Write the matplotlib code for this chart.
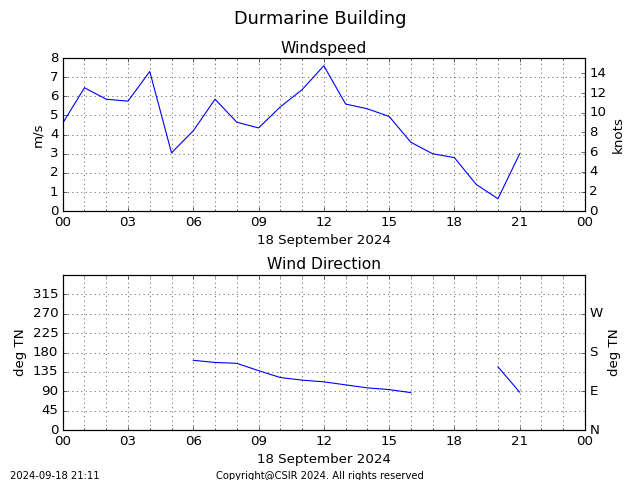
import numpy as np
import matplotlib
matplotlib.use('Agg')
import matplotlib.pyplot as plt
import matplotlib.dates as mdates
from datetime import datetime, timedelta

plt.style.use('classic')

day = datetime(2024, 9, 18)
hours = list(range(22))
times = [day + timedelta(hours=h) for h in hours]

# wind speed, m/s (hourly)
speed = [4.6, 6.45, 5.85, 5.75, 7.3, 3.05, 4.2, 5.85, 4.65, 4.35, 5.45,
         6.35, 7.6, 5.6, 5.35, 4.95, 3.6, 3.0, 2.8, 1.4, 0.65, 3.0]

# wind direction, deg TN (nan = missing)
direction = [np.nan, np.nan, np.nan, np.nan, np.nan, np.nan, 162, 157, 155,
             138, 122, 116, 112, 105, 98, 94, 87, np.nan, np.nan, np.nan,
             147, 88]

dir_ticks = [0, 45, 90, 135, 180, 225, 270, 315]
compass_ticks = [0, 90, 180, 270]
compass_labels = ['N', 'E', 'S', 'W']

fig = plt.figure(figsize=(8, 6), dpi=80)
fig.suptitle('Durmarine Building', fontsize=16)

xfmt = mdates.DateFormatter('%H')
xmin, xmax = day, day + timedelta(days=1)
fs = 12

# windspeed
ax1 = fig.add_axes([0.098, 0.560, 0.816, 0.319])
ax1.plot(times, speed, 'b-')
ax1.set_xlim(xmin, xmax)
ax1.set_ylim(0, 8)
ax1.set_ylabel('m/s', fontsize=fs)
ax1.set_title('Windspeed', fontsize=14)
ax1.set_xlabel('18 September 2024', fontsize=fs)
ax1.xaxis.set_major_locator(mdates.HourLocator(byhour=range(0, 24, 3)))
ax1.xaxis.set_minor_locator(mdates.HourLocator())
ax1.xaxis.set_major_formatter(xfmt)
ax1.grid(True, which='both', axis='x')
ax1.grid(True, which='major', axis='y')
ax1.tick_params(labelsize=fs)
ax1b = ax1.twinx()
ax1b.set_ylim(0, 8 * 1.94384)
ax1b.set_yticks(range(0, 16, 2))
ax1b.set_ylabel('knots', fontsize=fs)
ax1b.tick_params(labelsize=fs)

# wind direction
ax2 = fig.add_axes([0.098, 0.104, 0.816, 0.323])
ax2.plot(times, direction, 'b-')
ax2.set_xlim(xmin, xmax)
ax2.set_ylim(0, 360)
ax2.set_yticks(dir_ticks)
ax2.set_ylabel('deg TN', fontsize=fs)
ax2.set_title('Wind Direction', fontsize=14)
ax2.set_xlabel('18 September 2024', fontsize=fs)
ax2.xaxis.set_major_locator(mdates.HourLocator(byhour=range(0, 24, 3)))
ax2.xaxis.set_minor_locator(mdates.HourLocator())
ax2.xaxis.set_major_formatter(xfmt)
ax2.grid(True, which='both', axis='x')
ax2.grid(True, which='major', axis='y')
ax2.tick_params(labelsize=fs)
ax2b = ax2.twinx()
ax2b.set_ylim(0, 360)
ax2b.set_yticks(compass_ticks)
ax2b.set_yticklabels(compass_labels)
ax2b.set_ylabel('deg TN', fontsize=fs)
ax2b.tick_params(labelsize=fs)

fig.text(0.016, 0.002, '2024-09-18 21:11', fontsize=9)
fig.text(0.338, 0.002, 'Copyright@CSIR 2024. All rights reserved', fontsize=9)

fig.savefig('out.png', dpi=80)
